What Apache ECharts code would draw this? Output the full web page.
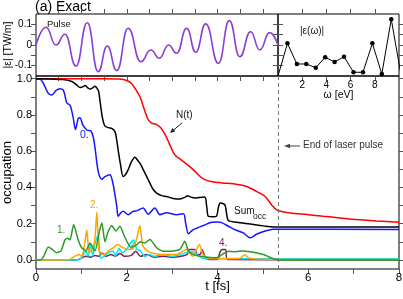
<!DOCTYPE html>
<html><head><meta charset="utf-8">
<script src="https://cdn.jsdelivr.net/npm/echarts@6/dist/echarts.min.js"></script>
<style>html,body{margin:0;padding:0;background:#fff}#c{width:403px;height:299px}</style>
</head><body><div id="c"></div>
<script>
const FONT = '"Liberation Sans", Arial, Helvetica, sans-serif';

// ---- Pulse (top-left), t [fs] vs field ----
const pulseT = [0,0.22,0.44,0.64,0.88,1.13,1.37,1.57,1.78,2.03,2.31,2.53,2.72,2.92,3.10,3.32,3.52,3.74,4.02,4.26,4.49,4.73,4.93,5.15,5.333];
const pulseV = [0,0.086,0.0,0.052,-0.102,0.108,-0.129,-0.005,-0.124,0.081,-0.081,-0.024,-0.064,0.0,-0.040,0.081,-0.035,0.102,-0.089,0.118,-0.057,0.064,-0.024,0.060,0.0];

// ---- Spectrum |eps(omega)| (top-right), arbitrary units ----
const specW = [0,0.78,1.56,2.34,3.12,3.90,4.68,5.46,6.24,7.02,7.80,8.58,9.36,10.14];
const specV = [0,0.527,0.194,0.194,0.134,0.302,0.226,0.311,0.06,0.06,0.527,0.032,0.915,0.05];

// ---- Main panel occupations: [t, value] ----
const nT = [[0,1.0],[1.5,1.0],[1.85,0.998],[2.0,0.99],[2.1,0.975],[2.2,0.94],[2.3,0.895],[2.38,0.835],[2.47,0.775],[2.55,0.755],[2.65,0.748],[2.75,0.73],[2.85,0.69],[2.95,0.635],[3.06,0.58],[3.2,0.552],[3.39,0.515],[3.5,0.49],[3.61,0.462],[3.72,0.443],[3.85,0.433],[4.1,0.425],[4.35,0.42],[4.64,0.405],[4.86,0.378],[5.05,0.35],[5.19,0.305],[5.32,0.274],[5.6,0.259],[6.0,0.25],[6.33,0.241],[6.7,0.232],[7.07,0.223],[7.5,0.215],[8.0,0.208]];
const sumOcc = [[0,1.0],[0.3,0.999],[0.6,0.995],[0.79,0.985],[0.9,0.965],[0.97,0.952],[1.03,0.955],[1.08,0.962],[1.14,0.95],[1.19,0.943],[1.25,0.95],[1.3,0.959],[1.35,0.945],[1.38,0.93],[1.42,0.86],[1.46,0.79],[1.52,0.738],[1.6,0.73],[1.67,0.726],[1.74,0.708],[1.78,0.66],[1.81,0.607],[1.86,0.53],[1.92,0.46],[1.97,0.47],[2.03,0.497],[2.1,0.54],[2.18,0.567],[2.24,0.55],[2.3,0.53],[2.38,0.49],[2.44,0.46],[2.51,0.424],[2.58,0.39],[2.66,0.369],[2.77,0.355],[2.88,0.35],[3.0,0.34],[3.1,0.336],[3.2,0.338],[3.28,0.345],[3.34,0.354],[3.4,0.348],[3.5,0.342],[3.6,0.345],[3.72,0.347],[3.76,0.3],[3.8,0.24],[3.9,0.238],[3.98,0.242],[4.02,0.29],[4.06,0.314],[4.13,0.31],[4.17,0.3],[4.21,0.24],[4.24,0.217],[4.42,0.208],[4.72,0.198],[5.01,0.188],[5.23,0.182],[5.33,0.182],[8,0.182]];
const occ0 = [[0,1.0],[0.09,0.998],[0.16,0.975],[0.2,0.955],[0.27,0.92],[0.35,0.91],[0.44,0.935],[0.53,0.945],[0.6,0.938],[0.64,0.905],[0.68,0.866],[0.75,0.854],[0.79,0.82],[0.82,0.785],[0.87,0.72],[0.93,0.78],[0.97,0.785],[1.0,0.77],[1.03,0.745],[1.12,0.717],[1.21,0.712],[1.26,0.68],[1.3,0.62],[1.35,0.52],[1.39,0.47],[1.45,0.445],[1.52,0.46],[1.63,0.47],[1.68,0.44],[1.72,0.39],[1.78,0.296],[1.81,0.241],[1.87,0.26],[1.92,0.268],[2.03,0.25],[2.14,0.268],[2.23,0.272],[2.36,0.287],[2.47,0.252],[2.62,0.287],[2.73,0.25],[2.88,0.26],[3.1,0.25],[3.25,0.255],[3.3,0.2],[3.36,0.145],[3.45,0.165],[3.54,0.175],[3.69,0.19],[3.87,0.208],[4.0,0.21],[4.09,0.206],[4.24,0.186],[4.4,0.165],[4.57,0.149],[4.72,0.122],[4.86,0.142],[5.05,0.16],[5.23,0.17],[5.33,0.17],[8,0.168]];
const occ1 = [[0,0],[0.09,0],[0.17,0.02],[0.27,0.072],[0.35,0.06],[0.45,0.04],[0.55,0.05],[0.64,0.112],[0.7,0.12],[0.75,0.11],[0.83,0.195],[0.93,0.11],[1.0,0.07],[1.1,0.05],[1.19,0.094],[1.3,0.05],[1.4,0.16],[1.45,0.205],[1.52,0.1],[1.58,0.15],[1.67,0.19],[1.76,0.16],[1.85,0.186],[1.95,0.13],[2.09,0.07],[2.2,0.08],[2.3,0.1],[2.4,0.094],[2.51,0.113],[2.66,0.067],[2.8,0.048],[2.95,0.048],[3.17,0.058],[3.28,0.103],[3.36,0.048],[3.47,0.03],[3.62,0.021],[3.98,0.012],[4.1,0.03],[4.24,0.048],[4.4,0.045],[4.55,0.05],[4.72,0.045],[5.01,0.03],[5.2,0.01],[5.33,0.0],[8,0.0]];
const occ2 = [[0,0],[0.75,0.003],[0.85,0.02],[0.95,0.03],[1.0,0.02],[1.05,0.05],[1.12,0.165],[1.17,0.04],[1.25,0.06],[1.3,0.12],[1.34,0.265],[1.39,0.05],[1.5,0.03],[1.6,0.05],[1.7,0.067],[1.8,0.085],[1.9,0.07],[2.0,0.058],[2.1,0.06],[2.2,0.1],[2.29,0.19],[2.35,0.08],[2.45,0.05],[2.6,0.035],[2.8,0.03],[3.1,0.03],[3.25,0.05],[3.32,0.058],[3.45,0.02],[3.6,0.085],[3.68,0.03],[3.8,0.01],[4.2,0.008],[4.5,0.01],[4.6,0.03],[4.7,0.01],[5.33,0.002],[8,0.002]];
const occ3 = [[0,0],[0.9,0.0],[1.0,0.01],[1.1,0.05],[1.15,0.02],[1.2,0.085],[1.25,0.02],[1.3,0.09],[1.37,0.14],[1.42,0.01],[1.5,0.02],[1.6,0.04],[1.7,0.05],[1.75,0.02],[1.83,0.065],[1.9,0.04],[2.0,0.06],[2.07,0.09],[2.15,0.11],[2.22,0.06],[2.3,0.05],[2.4,0.02],[2.5,0.03],[2.6,0.02],[2.8,0.03],[3.0,0.02],[3.2,0.03],[3.3,0.04],[3.45,0.045],[3.6,0.02],[3.7,0.006],[5.33,0.006],[8,0.006]];
const occ4 = [[0,0],[0.9,0.0],[1.0,0.01],[1.1,0.02],[1.2,0.015],[1.3,0.025],[1.4,0.02],[1.45,0.04],[1.55,0.02],[1.65,0.03],[1.75,0.02],[1.85,0.035],[1.95,0.02],[2.1,0.025],[2.2,0.048],[2.3,0.02],[2.45,0.03],[2.6,0.015],[2.8,0.02],[3.0,0.015],[3.2,0.02],[3.33,0.03],[3.38,0.058],[3.5,0.058],[3.55,0.03],[3.62,0.03],[3.66,0.058],[3.72,0.02],[3.8,0.002],[4.0,0.002],[4.05,0.04],[4.1,0.058],[4.18,0.058],[4.22,0.002],[8,0.0]];

// tick / label values
const mainXTicks = [0,1,2,3,4,5,6,7,8];
const mainXLabels = [0,2,4,6,8];
const mainYTicks = [0,0.1,0.2,0.3,0.4,0.5,0.6,0.7,0.8,0.9,1.0];
const mainYLabels = [0,0.2,0.4,0.6,0.8,1.0];
const pulseXTicks = [0.5,1,1.5,2,2.5,3,3.5,4,4.5,5];
const pulseYTicks = [-0.1,-0.05,0,0.05,0.1];
const pulseYLabels = [-0.1,0,0.1];
const specXTicks = [2,4,6,8];
const specYTicks = [1/6,2/6,3/6,4/6,5/6];
const pulseEnd = 5.333;

function ax(extra) {
  const base = {
    axisLine: {show: false, onZero: false},
    splitLine: {show: false},
    axisTick: {show: true, inside: true, length: 4, lineStyle: {color: '#000', width: 1}},
    axisLabel: {show: false},
    nameMoveOverlap: false
  };
  const o = Object.assign(base, extra);
  if (extra.axisTick) o.axisTick = Object.assign({}, base.axisTick, extra.axisTick);
  if (extra.axisLabel) o.axisLabel = Object.assign({show: true, fontFamily: FONT, color: '#000', hideOverlap: false}, extra.axisLabel);
  return o;
}

const chart = echarts.init(document.getElementById('c'), null, {renderer: 'canvas'});

function line(name, data, color, width, extra) {
  return Object.assign({
    name, type: 'line', data, showSymbol: false, symbol: 'none', smooth: 0.3,
    lineStyle: {color, width}, itemStyle: {color}, xAxisIndex: 0, yAxisIndex: 0,
    animation: false, z: 3
  }, extra || {});
}

const G = {show: true, borderColor: '#000', borderWidth: 1, backgroundColor: 'transparent', containLabel: false, outerBoundsMode: 'none'};

const option = {
  animation: false,
  backgroundColor: '#fff',
  grid: [
    Object.assign({left: 36, top: 76, width: 363, height: 193}, G),
    Object.assign({left: 36, top: 14, width: 242, height: 62}, G),
    Object.assign({left: 278, top: 14, width: 121, height: 62}, G)
  ],
  xAxis: [
    ax({type: 'value', gridIndex: 0, min: 0, max: 8, position: 'bottom',
        axisTick: {customValues: mainXTicks},
        axisLabel: {customValues: mainXLabels, fontSize: 11.5, margin: 3},
        name: 't [fs]', nameLocation: 'middle', nameGap: 11,
        nameTextStyle: {fontFamily: FONT, fontSize: 13, color: '#000'}}),
    ax({type: 'value', gridIndex: 1, min: 0, max: pulseEnd, position: 'bottom', axisTick: {customValues: pulseXTicks}}),
    ax({type: 'value', gridIndex: 1, min: 0, max: pulseEnd, position: 'top', axisTick: {customValues: pulseXTicks}}),
    ax({type: 'value', gridIndex: 2, min: 0, max: 10, position: 'bottom',
        axisTick: {customValues: specXTicks},
        axisLabel: {customValues: specXTicks, fontSize: 10, margin: 4},
        name: 'ω [eV]', nameLocation: 'middle', nameGap: 14,
        nameTextStyle: {fontFamily: FONT, fontSize: 10.5, color: '#000'}}),
    ax({type: 'value', gridIndex: 2, min: 0, max: 10, position: 'top', axisTick: {customValues: specXTicks}})
  ],
  yAxis: [
    ax({type: 'value', gridIndex: 0, min: -0.05, max: 1.015, position: 'left',
        axisTick: {customValues: mainYTicks},
        axisLabel: {customValues: mainYLabels, fontSize: 11, margin: 4, formatter: v => v.toFixed(1)},
        name: 'occupation', nameLocation: 'middle', nameGap: 22, nameRotate: 90,
        nameTextStyle: {fontFamily: FONT, fontSize: 13, color: '#000'}}),
    ax({type: 'value', gridIndex: 0, min: -0.05, max: 1.015, position: 'right', axisTick: {customValues: mainYTicks}}),
    ax({type: 'value', gridIndex: 1, min: -0.15, max: 0.15, position: 'left',
        axisTick: {customValues: pulseYTicks},
        axisLabel: {customValues: pulseYLabels, fontSize: 10, margin: 4, formatter: v => (Math.abs(v) < 1e-9 ? '0' : String(v))},
        name: '|ε| [TW/m]', nameLocation: 'middle', nameGap: 22, nameRotate: 90,
        nameTextStyle: {fontFamily: FONT, fontSize: 10.5, color: '#000'}}),
    ax({type: 'value', gridIndex: 1, min: -0.15, max: 0.15, position: 'right', axisTick: {customValues: pulseYTicks}}),
    ax({type: 'value', gridIndex: 2, min: 0, max: 1, position: 'left', axisTick: {customValues: specYTicks}}),
    ax({type: 'value', gridIndex: 2, min: 0, max: 1, position: 'right', axisTick: {customValues: specYTicks}})
  ],
  series: [
    line('N(t)', nT, '#ff0000', 1.5, {
      markLine: {silent: true, symbol: 'none', label: {show: false},
        lineStyle: {color: '#777', width: 1, type: [4, 3]},
        data: [{xAxis: pulseEnd}]}
    }),
    line('4.', occ4, '#7d1d5c', 1.5, {smooth: 0.2}),
    line('3.', occ3, '#00e8ee', 1.5, {smooth: 0.2}),
    line('2.', occ2, '#ffa500', 1.5, {smooth: 0.2}),
    line('1.', occ1, '#2a9a2a', 1.5, {smooth: 0.2}),
    line('0.', occ0, '#1515ff', 1.5),
    line('Sum', sumOcc, '#000000', 1.5),
    {
      name: 'pulse', type: 'line', xAxisIndex: 1, yAxisIndex: 2,
      data: pulseT.map((t, i) => [t, pulseV[i]]),
      smooth: 0.5, smoothMonotone: 'x', symbol: 'none', showSymbol: false,
      lineStyle: {color: '#8b3fd3', width: 1.6}, animation: false
    },
    {
      name: 'spectrum', type: 'line', xAxisIndex: 3, yAxisIndex: 4,
      data: specW.map((w, i) => (i === 0 ? {value: [w, specV[i]], symbol: 'none'} : [w, specV[i]])),
      symbol: 'circle', symbolSize: 4.5, showSymbol: true, clip: true,
      lineStyle: {color: '#000', width: 1}, itemStyle: {color: '#000'}, animation: false
    }
  ],
  graphic: [
    {type: 'text', left: 35, top: 0, style: {text: '(a) Exact', fontSize: 14, fontFamily: FONT, fill: '#000'}},
    {type: 'text', left: 47, top: 19, style: {text: 'Pulse', fontSize: 9.5, fontFamily: FONT, fill: '#111'}},
    {type: 'text', left: 300, top: 26, style: {text: '|ε(ω)|', fontSize: 10, fontFamily: FONT, fill: '#111'}},
    {type: 'text', left: 176, top: 110, style: {text: 'N(t)', fontSize: 10, fontFamily: FONT, fill: '#111'}},
    {type: 'line', shape: {x1: 182, y1: 123, x2: 172, y2: 131.3}, style: {stroke: '#222', lineWidth: 1}},
    {type: 'polygon', shape: {points: [[170, 133], [175.2, 131.5], [172.4, 128.1]]}, style: {fill: '#222'}},
    {type: 'text', left: 80, top: 130, style: {text: '0.', fontSize: 10.5, fontFamily: FONT, fill: '#1515ff'}},
    {type: 'text', left: 303, top: 140, style: {text: 'End of laser pulse', fontSize: 10, fontFamily: FONT, fill: '#333'}},
    {type: 'line', shape: {x1: 300, y1: 146, x2: 289, y2: 146}, style: {stroke: '#444', lineWidth: 1}},
    {type: 'polygon', shape: {points: [[284, 146], [290, 143.8], [290, 148.2]]}, style: {fill: '#444'}},
    {type: 'text', left: 234, top: 206, style: {text: 'Sum', fontSize: 10, fontFamily: FONT, fill: '#111'}},
    {type: 'text', left: 253, top: 212, style: {text: 'occ', fontSize: 8.5, fontFamily: FONT, fill: '#111'}},
    {type: 'text', left: 90, top: 200, style: {text: '2.', fontSize: 10, fontFamily: FONT, fill: '#ffa500'}},
    {type: 'text', left: 57, top: 225, style: {text: '1.', fontSize: 10, fontFamily: FONT, fill: '#2a9a2a'}},
    {type: 'text', left: 129, top: 242, style: {text: '3.', fontSize: 10, fontFamily: FONT, fill: '#00e8ee'}},
    {type: 'text', left: 219, top: 238, style: {text: '4.', fontSize: 10, fontFamily: FONT, fill: '#7d1d5c'}}
  ]
};
chart.setOption(option);
</script></body></html>
